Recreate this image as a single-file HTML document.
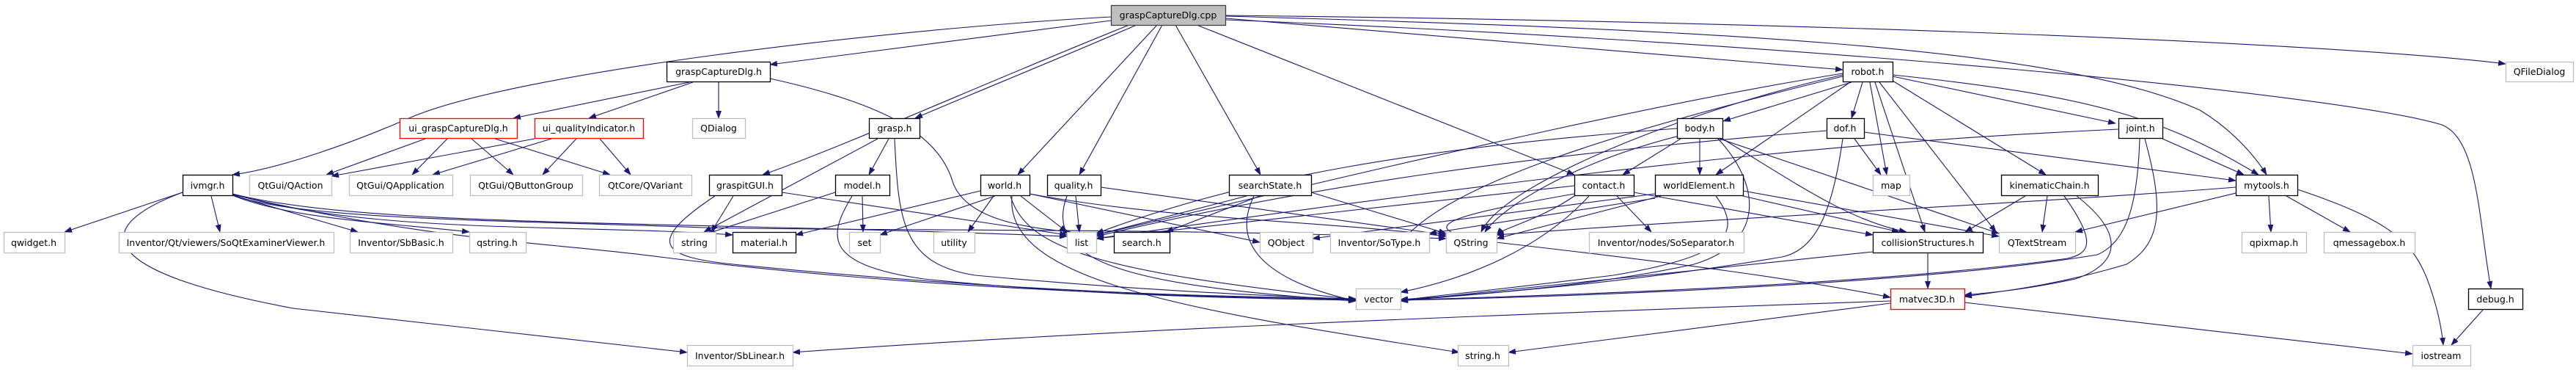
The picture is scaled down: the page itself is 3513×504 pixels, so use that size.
<!DOCTYPE html>
<html><head><meta charset="utf-8"><style>
html,body{margin:0;padding:0;background:#fff;}
svg{display:block;}
text{font-family:"DejaVu Sans","Liberation Sans",sans-serif;font-size:12.5px;fill:#000;text-anchor:middle;}
.b{fill:#fff;stroke:#000;stroke-width:1.3;}
.g{fill:#fff;stroke:#bfbfbf;stroke-width:1.3;}
.r{fill:#fff;stroke:#ff0000;stroke-width:1.3;}
.e path{fill:none;stroke:#191970;stroke-width:1.1;marker-end:url(#a);}
</style></head><body>
<svg width="3513" height="504" viewBox="0 0 3513 504" xmlns="http://www.w3.org/2000/svg">
<defs><marker id="a" markerWidth="11" markerHeight="8" refX="10" refY="4" orient="auto" markerUnits="userSpaceOnUse"><path d="M0,0 L11,4 L0,8 z" fill="#191970"/></marker></defs>
<g class="e">
<!-- from cpp -->
<path d="M1515,23 C1200,40 700,100 560,160 C480,195 380,230 317,238"/>
<path d="M1515,28 L1050,88"/>
<path d="M1540,34 C1350,110 1150,200 1040,238"/>
<path d="M1550,34 C1420,90 1320,130 1248,161"/>
<path d="M1578,34 L1388,238"/>
<path d="M1585,34 L1472,238"/>
<path d="M1603,34 L1719,238"/>
<path d="M1632,34 L2147,238"/>
<path d="M1672,25 L2513,95"/>
<path d="M1672,22 C2300,40 2800,60 3000,150 C3050,180 3080,220 3091,238"/>
<path d="M1672,21 C2500,30 3200,60 3417,87"/>
<path d="M1672,27 C2500,60 3200,130 3330,170 C3380,190 3380,300 3397,393"/>
<!-- graspCaptureDlg.h -->
<path d="M940,112 L700,161"/>
<path d="M945,112 L803,161"/>
<path d="M980,112 L980,161"/>
<path d="M1050,107 C1200,140 1280,180 1300,250 C1320,300 1400,310 1460,316"/>
<!-- ui -->
<path d="M580,189 L445,238"/>
<path d="M610,189 L562,238"/>
<path d="M643,189 L700,238"/>
<path d="M675,189 L832,238"/>
<path d="M729,189 L452,240"/>
<path d="M752,189 L590,238"/>
<path d="M786,189 L740,238"/>
<path d="M818,189 L860,238"/>
<!-- ivmgr -->
<path d="M249,262 L88,316"/>
<path d="M288,267 L300,316"/>
<path d="M317,266 L488,316"/>
<path d="M317,266 C400,300 550,305 640,316"/>
<path d="M317,264 C500,310 900,300 1455,322"/>
<path d="M317,264 C500,320 800,305 999,320"/>
<path d="M317,265 C600,330 750,330 900,350 C1300,400 1700,405 1849,408"/>
<path d="M317,265 C400,300 700,300 960,310 C1200,315 1600,310 1972,325"/>
<path d="M249,262 C120,310 130,370 400,420 L937,480"/>
<!-- graspitGUI -->
<path d="M1000,267 L970,316"/>
<path d="M1066,262 L1455,320"/>
<path d="M975,267 C880,330 900,350 1000,360 C1400,400 1700,405 1849,407"/>
<!-- grasp -->
<path d="M1212,189 L1185,238"/>
<path d="M1197,189 L960,316"/>
<path d="M1220,189 C1225,300 1230,360 1330,375 C1600,400 1800,405 1849,408"/>
<!-- model -->
<path d="M1176,267 L1177,316"/>
<path d="M1139,262 L965,318"/>
<path d="M1162,267 C1130,320 1120,360 1260,380 C1500,405 1750,407 1849,409"/>
<!-- world -->
<path d="M1337,260 L1085,320"/>
<path d="M1357,267 L1200,320"/>
<path d="M1355,267 L1320,316"/>
<path d="M1392,267 L1455,316"/>
<path d="M1404,264 L1718,330"/>
<path d="M1404,264 C1600,300 1800,300 1972,322"/>
<path d="M1378,267 C1400,340 1500,370 1849,408"/>
<path d="M1380,267 C1370,380 1600,420 1990,480"/>
<!-- quality -->
<path d="M1467,267 L1472,316"/>
<path d="M1501,255 L1972,320"/>
<path d="M1455,267 C1420,360 1550,390 1849,410"/>
<!-- searchState -->
<path d="M1700,267 L1495,320"/>
<path d="M1718,267 L1590,316"/>
<path d="M1788,262 L1972,318"/>
<path d="M1710,267 C1670,350 1760,390 1849,410"/>
<!-- robot -->
<path d="M2525,112 L2350,165"/>
<path d="M2540,112 L2525,161"/>
<path d="M2523,112 L2340,238"/>
<path d="M2550,112 L2573,238"/>
<path d="M2557,112 L2625,316"/>
<path d="M2563,112 L2722,316"/>
<path d="M2581,104 L2885,168"/>
<path d="M2581,110 L2790,238"/>
<path d="M2581,102 C2850,130 2950,160 3080,238"/>
<path d="M2513,100 C2200,150 1800,250 1495,320"/>
<path d="M2513,102 C2300,150 2050,250 2020,316"/>
<path d="M2513,104 C2200,180 1980,250 1915,325"/>
<!-- body -->
<path d="M2287,175 C1950,200 1700,240 1495,318"/>
<path d="M2292,189 L2213,238"/>
<path d="M2318,189 L2318,238"/>
<path d="M2290,185 C2150,220 2050,280 2025,316"/>
<path d="M2343,189 C2400,250 2410,330 2310,360 C2150,395 1950,405 1910,408"/>
<path d="M2349,189 C2450,250 2520,300 2600,316"/>
<path d="M2345,189 L2726,318"/>
<!-- dof -->
<path d="M2529,189 L2565,238"/>
<path d="M2491,178 C2100,210 1800,250 1495,322"/>
<path d="M2513,189 C2500,280 2480,340 2430,350 C2200,390 1950,405 1910,410"/>
<path d="M2542,180 L3049,246"/>
<!-- contact -->
<path d="M2147,253 L1495,325"/>
<path d="M2205,267 L2252,316"/>
<path d="M2228,262 L2554,320"/>
<path d="M2167,267 C2100,340 2000,380 1910,398"/>
<path d="M2147,264 C2000,290 1900,310 2040,330 C2300,360 2450,380 2578,405"/>
<path d="M2150,265 C2100,300 2050,310 2041,320"/>
<!-- worldElement -->
<path d="M2257,264 L1790,325"/>
<path d="M2257,270 L1949,318"/>
<path d="M2265,267 L2041,325"/>
<path d="M2340,267 C2380,320 2350,350 2200,375 C2000,400 1930,405 1910,410"/>
<path d="M2377,267 L2590,316"/>
<path d="M2377,260 L2726,322"/>
<!-- collision -->
<path d="M2629,344 L2629,393"/>
<path d="M2554,343 L1910,410"/>
<!-- kinematic -->
<path d="M2762,267 L2680,316"/>
<path d="M2792,267 L2785,316"/>
<path d="M2815,267 C2860,330 2850,345 2820,352 C2500,395 2000,405 1910,409"/>
<path d="M2832,267 C2900,320 2890,360 2830,380 C2760,395 2720,398 2679,402"/>
<!-- joint -->
<path d="M2889,176 C2600,190 2300,210 1495,325"/>
<path d="M2949,189 L3060,238"/>
<path d="M2918,189 C2915,280 2900,330 2860,347 C2600,390 2100,405 1910,409"/>
<path d="M2925,189 C2950,280 2950,330 2900,360 C2800,390 2720,398 2679,404"/>
<!-- mytools -->
<path d="M3049,263 L2830,316"/>
<path d="M3049,255 C2800,275 2300,300 2041,320"/>
<path d="M3094,267 L3097,316"/>
<path d="M3118,267 L3205,316"/>
<path d="M3133,258 C3260,300 3290,330 3310,380 C3325,420 3330,450 3332,470"/>
<!-- matvec -->
<path d="M2578,410 C2000,430 1500,450 1081,480"/>
<path d="M2578,413 L2057,480"/>
<path d="M2679,412 L3290,482"/>
<!-- debug -->
<path d="M3387,421 L3343,470"/>
</g>
<g>
<rect class="g" x="1515.5" y="7.5" width="156" height="27" style="fill:#bfbfbf;stroke:#404040"/><text x="1593" y="25">graspCaptureDlg.cpp</text>
<rect class="b" x="909.5" y="84.5" width="141" height="27"/><text x="980" y="102">graspCaptureDlg.h</text>
<rect class="b" x="2513.5" y="84.5" width="68" height="27"/><text x="2547" y="102">robot.h</text>
<rect class="g" x="3417.5" y="84.5" width="92" height="27"/><text x="3463" y="102">QFileDialog</text>
<rect class="r" x="545.5" y="161.5" width="160" height="27"/><text x="625" y="179">ui_graspCaptureDlg.h</text>
<rect class="r" x="729.5" y="161.5" width="148" height="27"/><text x="803" y="179">ui_qualityIndicator.h</text>
<rect class="g" x="944.5" y="161.5" width="72" height="27"/><text x="980" y="179">QDialog</text>
<rect class="b" x="1185.5" y="161.5" width="69" height="27"/><text x="1220" y="179">grasp.h</text>
<rect class="b" x="2287.5" y="161.5" width="62" height="27"/><text x="2318" y="179">body.h</text>
<rect class="b" x="2491.5" y="161.5" width="51" height="27"/><text x="2516" y="179">dof.h</text>
<rect class="b" x="2889.5" y="161.5" width="60" height="27"/><text x="2919" y="179">joint.h</text>
<rect class="b" x="249.5" y="238.5" width="68" height="28"/><text x="283" y="257">ivmgr.h</text>
<rect class="g" x="340.5" y="238.5" width="112" height="28"/><text x="396" y="257">QtGui/QAction</text>
<rect class="g" x="476.5" y="238.5" width="141" height="28"/><text x="546" y="257">QtGui/QApplication</text>
<rect class="g" x="641.5" y="238.5" width="153" height="28"/><text x="717" y="257">QtGui/QButtonGroup</text>
<rect class="g" x="817.5" y="238.5" width="126" height="28"/><text x="880" y="257">QtCore/QVariant</text>
<rect class="b" x="967.5" y="238.5" width="99" height="28"/><text x="1016" y="257">graspitGUI.h</text>
<rect class="b" x="1139.5" y="238.5" width="74" height="28"/><text x="1176" y="257">model.h</text>
<rect class="b" x="1337.5" y="238.5" width="67" height="28"/><text x="1370" y="257">world.h</text>
<rect class="b" x="1428.5" y="238.5" width="73" height="28"/><text x="1464" y="257">quality.h</text>
<rect class="b" x="1676.5" y="238.5" width="112" height="28"/><text x="1732" y="257">searchState.h</text>
<rect class="b" x="2147.5" y="238.5" width="81" height="28"/><text x="2187" y="257">contact.h</text>
<rect class="b" x="2257.5" y="238.5" width="120" height="28"/><text x="2317" y="257">worldElement.h</text>
<rect class="g" x="2554.5" y="238.5" width="50" height="28"/><text x="2579" y="257">map</text>
<rect class="b" x="2729.5" y="238.5" width="132" height="28"/><text x="2795" y="257">kinematicChain.h</text>
<rect class="b" x="3049.5" y="238.5" width="84" height="28"/><text x="3091" y="257">mytools.h</text>
<rect class="g" x="5.5" y="316.5" width="83" height="28"/><text x="46" y="335">qwidget.h</text>
<rect class="g" x="162.5" y="316.5" width="293" height="28"/><text x="308" y="335">Inventor/Qt/viewers/SoQtExaminerViewer.h</text>
<rect class="g" x="477.5" y="316.5" width="140" height="28"/><text x="547" y="335">Inventor/SbBasic.h</text>
<rect class="g" x="640.5" y="316.5" width="77" height="28"/><text x="678" y="335">qstring.h</text>
<rect class="g" x="918.5" y="316.5" width="58" height="28"/><text x="947" y="335">string</text>
<rect class="b" x="999.5" y="316.5" width="86" height="28"/><text x="1042" y="335">material.h</text>
<rect class="g" x="1158.5" y="316.5" width="42" height="28"/><text x="1179" y="335">set</text>
<rect class="g" x="1273.5" y="316.5" width="56" height="28"/><text x="1301" y="335">utility</text>
<rect class="g" x="1455.5" y="316.5" width="40" height="28"/><text x="1475" y="335">list</text>
<rect class="b" x="1519.5" y="316.5" width="76" height="28"/><text x="1557" y="335">search.h</text>
<rect class="g" x="1718.5" y="316.5" width="72" height="28"/><text x="1754" y="335">QObject</text>
<rect class="g" x="1814.5" y="316.5" width="135" height="28"/><text x="1881" y="335">Inventor/SoType.h</text>
<rect class="g" x="1972.5" y="316.5" width="69" height="28"/><text x="2006" y="335">QString</text>
<rect class="g" x="2167.5" y="316.5" width="211" height="28"/><text x="2272" y="335">Inventor/nodes/SoSeparator.h</text>
<rect class="b" x="2554.5" y="316.5" width="150" height="28"/><text x="2629" y="335">collisionStructures.h</text>
<rect class="g" x="2726.5" y="316.5" width="104" height="28"/><text x="2778" y="335">QTextStream</text>
<rect class="g" x="3057.5" y="316.5" width="88" height="28"/><text x="3101" y="335">qpixmap.h</text>
<rect class="g" x="3169.5" y="316.5" width="124" height="28"/><text x="3231" y="335">qmessagebox.h</text>
<rect class="g" x="1849.5" y="393.5" width="61" height="28"/><text x="1880" y="412">vector</text>
<rect class="r" x="2578.5" y="393.5" width="101" height="28"/><text x="2628" y="412">matvec3D.h</text>
<rect class="b" x="3366.5" y="393.5" width="74" height="28"/><text x="3403" y="412">debug.h</text>
<rect class="g" x="937.5" y="470.5" width="144" height="28"/><text x="1009" y="489">Inventor/SbLinear.h</text>
<rect class="g" x="1988.5" y="470.5" width="69" height="28"/><text x="2022" y="489">string.h</text>
<rect class="g" x="3290.5" y="470.5" width="79" height="28"/><text x="3329" y="489">iostream</text>
</g>
</svg>
</body></html>
